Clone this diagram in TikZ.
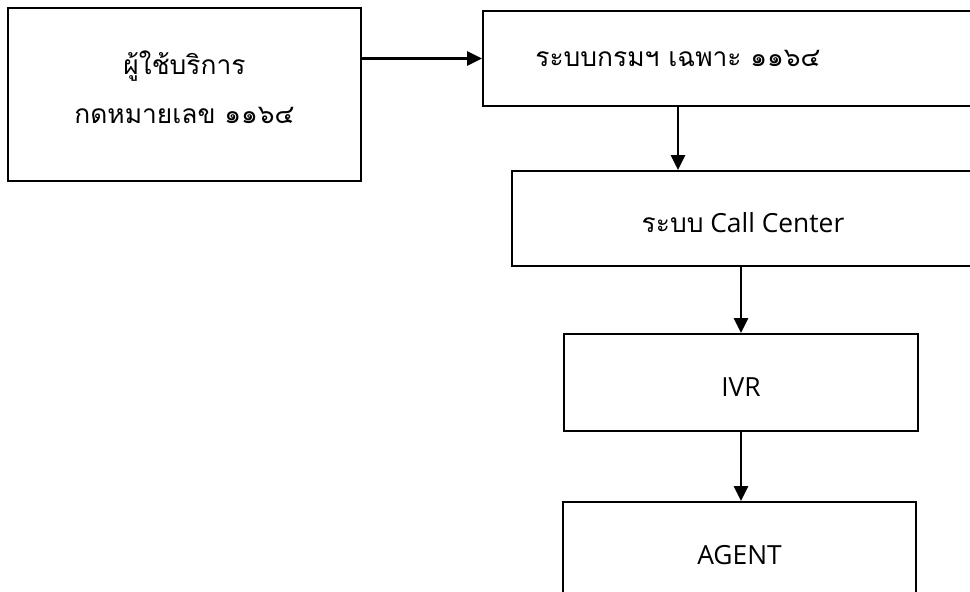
\documentclass[tikz,border=0pt]{standalone}
\usepackage{fontspec}
\setmainfont{Open Sans}
\newfontfamily\thaifont[Script=Thai]{Loma}
\usetikzlibrary{arrows.meta}

\begin{document}
\begin{tikzpicture}[>={Triangle[length=0.3cm, width=0.28cm]},
    box/.style={draw, line width=1pt, inner sep=0pt},
    low/.style={text height=0.58cm, text depth=0pt},
    flow/.style={->, line width=1.5pt},
    font=\fontsize{15}{28}\selectfont,
    thai/.style={font=\thaifont\fontsize{15}{28}\selectfont}]
    \clip (0, 0) rectangle (19.4, 11.84);

    \node[box, minimum width=7.06cm, minimum height=3.46cm] (user) at (3.69, 9.95) {};
    \node[thai, align=center] (userlabel) at (3.69, 10.1) {ผู้ใช้บริการ\\กดหมายเลข ๑๑๖๔};
    \node[box, minimum width=9.94cm, minimum height=1.9cm] (dept) at (14.63, 10.67) {};
    \node[thai] (deptlabel) at (13.56, 10.68) {ระบบกรมฯ เฉพาะ ๑๑๖๔};
    \node[box, low, minimum width=9.24cm, minimum height=1.9cm] (call) at (14.86, 7.47) {{\thaifont ระบบ} Call Center};
    \node[box, low, minimum width=7.08cm, minimum height=1.94cm] (ivr) at (14.82, 4.19) {IVR};
    \node[box, low, minimum width=7.06cm, minimum height=1.94cm] (agent) at (14.79, 0.83) {AGENT};

    \draw[flow] (user.east |- dept.west) -- (dept.west);
    \draw[flow] (deptlabel |- dept.south) -- (deptlabel |- call.north);
    \draw[flow] (ivr.north |- call.south) -- (ivr.north);
    \draw[flow] (ivr.south) -- (ivr.south |- agent.north);
\end{tikzpicture}
\end{document}
